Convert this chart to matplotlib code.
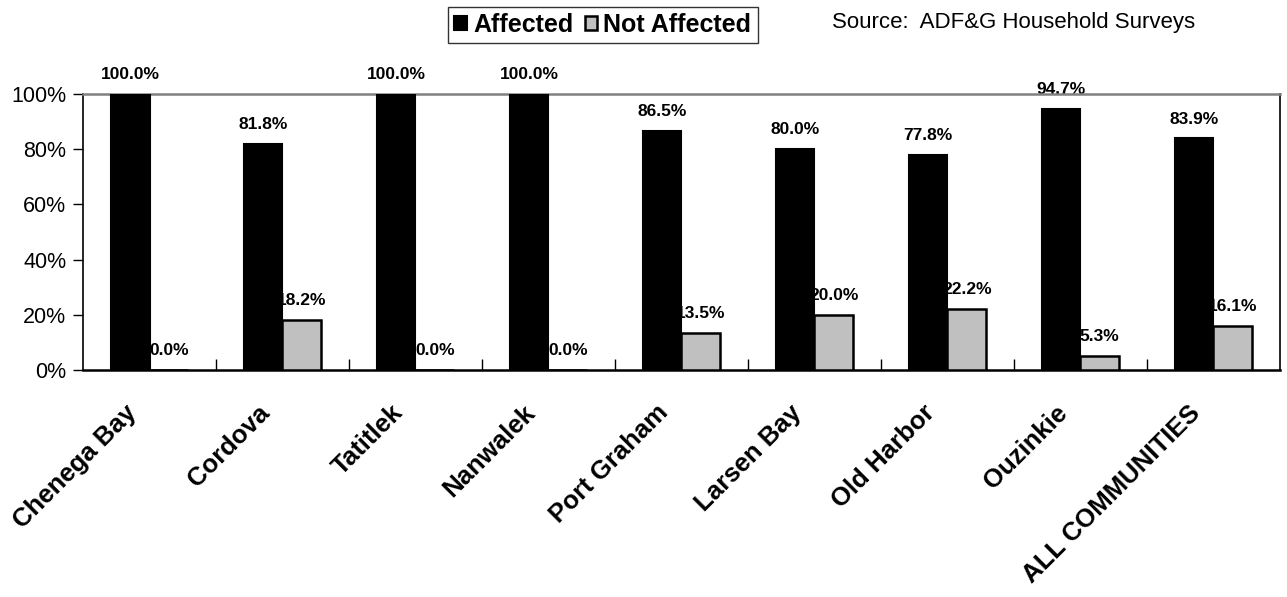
import numpy as np
import matplotlib
matplotlib.use("Agg")
import matplotlib.pyplot as plt
from matplotlib.ticker import PercentFormatter, FixedLocator
from matplotlib.transforms import ScaledTranslation
from matplotlib import font_manager

# ---------------------------------------------------------------------
# Data
# ---------------------------------------------------------------------
communities = ["Chenega Bay", "Cordova", "Tatitlek", "Nanwalek", "Port Graham",
               "Larsen Bay", "Old Harbor", "Ouzinkie", "ALL COMMUNITIES"]
affected = [100.0, 81.8, 100.0, 100.0, 86.5, 80.0, 77.8, 94.7, 83.9]
not_affected = [0.0, 18.2, 0.0, 0.0, 13.5, 20.0, 22.2, 5.3, 16.1]
series_names = ["Affected", "Not Affected"]
source_note = "Source:  ADF&G Household Surveys"

# ---------------------------------------------------------------------
# Fonts
# ---------------------------------------------------------------------
plt.rcParams["font.family"] = ["Liberation Sans", "DejaVu Sans"]
names = {f.name for f in font_manager.fontManager.ttflist}
narrow = "Liberation Sans Narrow" if "Liberation Sans Narrow" in names else "Liberation Sans"

fig = plt.figure(figsize=(12.87, 5.97), dpi=100)
ax = fig.add_axes([0.0645, 0.380, 0.930, 0.4625])

x = np.arange(len(communities))
w = 0.29
aff = np.array(affected) / 100
notaff = np.array(not_affected) / 100

b1 = ax.bar(x - w / 2, aff, w, color="black", edgecolor="black", linewidth=1.5,
            zorder=3, label=series_names[0])
b2 = ax.bar(x + w / 2, notaff, w, color="#C0C0C0", edgecolor="black", linewidth=1.8,
            zorder=3, label=series_names[1])

# value labels (drawn under the bars, like the original)
for bars, vals in [(b1, affected), (b2, not_affected)]:
    for rect, v in zip(bars, vals):
        ax.annotate(f"{v:.1f}%", (rect.get_x() + rect.get_width() / 2, rect.get_height()),
                    xytext=(0, 14), textcoords="offset points", ha="center", va="center",
                    fontsize=12.5, fontweight="bold", family=narrow, zorder=2,
                    annotation_clip=False)

ax.set_xlim(-0.5, len(communities) - 0.5)
ax.set_ylim(0, 1)
ax.yaxis.set_major_locator(FixedLocator(np.arange(0, 1.01, 0.2)))
ax.yaxis.set_major_formatter(PercentFormatter(1.0, decimals=0))
ax.tick_params(axis="y", labelsize=15.5, length=7, width=1, direction="out", pad=5)

ax.set_xticks(x)
ax.set_xticklabels(communities, rotation=45, ha="right", va="center",
                   rotation_mode="anchor", fontsize=18.5, fontweight="bold")
ax.tick_params(axis="x", which="major", length=0, pad=28)
shift = ScaledTranslation(-12 / 72, 0, fig.dpi_scale_trans)
for lab in ax.get_xticklabels():
    lab.set_transform(lab.get_transform() + shift)
ax.set_xticks(x[:-1] + 0.5, minor=True)
ax.tick_params(axis="x", which="minor", length=8, width=1, direction="in")

for side in ["left", "bottom", "right"]:
    ax.spines[side].set_color("black")
    ax.spines[side].set_linewidth(1.2)
ax.spines["bottom"].set_linewidth(1.8)
ax.spines["top"].set_color("#808080")
ax.spines["top"].set_linewidth(1.8)

leg = fig.legend(loc="center", bbox_to_anchor=(0.4685, 0.958), ncol=2,
                 prop={"size": 18, "weight": "bold"}, frameon=True, fancybox=False,
                 edgecolor="black", handlelength=0.5, handleheight=0.5,
                 handletextpad=0.25, columnspacing=0.45, borderpad=0.25,
                 borderaxespad=0)
leg.get_frame().set_linewidth(1.0)

fig.text(0.6465, 0.962, source_note, fontsize=16, ha="left", va="center")

fig.savefig("out.png", dpi=100, facecolor="white")
